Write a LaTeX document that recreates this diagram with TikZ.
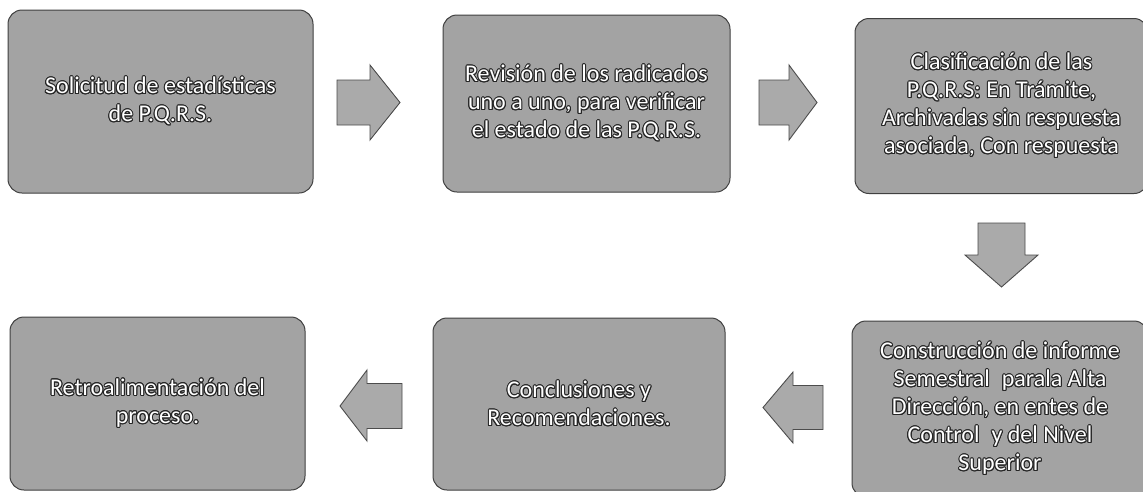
\documentclass[tikz,border=0pt]{standalone}
\usepackage{fontspec}
\setmainfont{Carlito}
\usepackage{contour}
\contourlength{1pt}
\newcommand\ol[1]{\contour{black!85}{#1}}
\definecolor{boxgray}{RGB}{163,163,163}
\definecolor{arrgray}{RGB}{170,170,170}
\tikzset{
  stepbox/.style={draw=black!75, line width=1pt, fill=boxgray, rounded corners=14pt,
    text=white, align=center, font=\fontsize{24}{28}\selectfont, inner sep=0pt},
  blockarrow/.style={draw=black!70, line width=0.9pt, fill=arrgray, line join=miter}
}
\begin{document}
\begin{tikzpicture}[x=1pt,y=-1pt]
\useasboundingbox (0,0) rectangle (1143,491);
\fill[white] (0,0) rectangle (1143,491);
% boxes
\node[stepbox, minimum width=305pt, minimum height=183pt] (b1) at (160.5,101.5)
  {\ol{Solicitud de estadísticas}\\\ol{de P.Q.R.S.}};
\node[stepbox, minimum width=287pt, minimum height=177pt] (b2) at (586.5,103.5)
  {\ol{Revisión de los radicados}\\\ol{uno a uno, para verificar}\\\ol{el estado de las P.Q.R.S.}};
\node[stepbox, minimum width=293pt, minimum height=175pt] (b3) at (1001.5,106)
  {\ol{Clasificación de las}\\\ol{P.Q.R.S: En Trámite,}\\\ol{Archivadas sin respuesta}\\\ol{asociada, Con respuesta}};
\node[stepbox, minimum width=296pt, minimum height=176pt] (b6) at (1000,409)
  {\ol{Construcción de informe}\\\ol{Semestral\enspace parala Alta}\\\ol{Dirección, en entes de}\\\ol{Control\enspace y del Nivel}\\\ol{Superior}};
\node[stepbox, minimum width=292pt, minimum height=172pt] (b5) at (579,404)
  {\ol{Conclusiones y}\\\ol{Recomendaciones.}};
\node[stepbox, minimum width=295pt, minimum height=173pt] (b4) at (157.5,403.5)
  {\ol{Retroalimentación del}\\\ol{proceso.}};
% arrows b1 -> b2
\coordinate (a1) at (368.5,102.5);
\draw[blockarrow, shift={(a1)}] (-31.5,-22.5) -- (1.5,-22.5) -- (1.5,-37.5) -- (31.5,0) -- (1.5,37.5) -- (1.5,22.5) -- (-31.5,22.5) -- cycle;
% b2 -> b3
\coordinate (a2) at (788,102.5);
\draw[blockarrow, shift={(a2)}] (-29,-22.5) -- (1,-22.5) -- (1,-37.5) -- (29,0) -- (1,37.5) -- (1,22.5) -- (-29,22.5) -- cycle;
% b3 -> b6 (down)
\coordinate (a3) at (1001.5,255);
\draw[blockarrow, shift={(a3)}] (-23.5,-32) -- (23.5,-32) -- (23.5,0) -- (36.5,0) -- (0,32) -- (-36.5,0) -- (-23.5,0) -- cycle;
% b6 -> b5 (left)
\coordinate (a4) at (793,407.5);
\draw[blockarrow, shift={(a4)}] (30,-22) -- (0,-22) -- (0,-35.5) -- (-30,0) -- (0,35.5) -- (0,22) -- (30,22) -- cycle;
% b5 -> b4 (left)
\coordinate (a5) at (371,406);
\draw[blockarrow, shift={(a5)}] (31,-22.5) -- (-4,-22.5) -- (-4,-36) -- (-31,0) -- (-4,35) -- (-4,22.5) -- (31,22.5) -- cycle;
\end{tikzpicture}
\end{document}
